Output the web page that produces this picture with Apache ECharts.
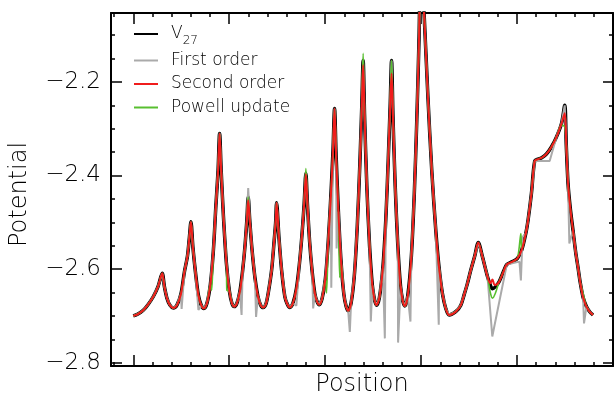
<!DOCTYPE html>
<html>
<head>
<meta charset="utf-8">
<script src="https://cdn.jsdelivr.net/npm/echarts@6/dist/echarts.min.js"></script>
<style>
  html, body { margin: 0; padding: 0; background: #fff; }
  #chart { width: 615px; height: 394px; }
</style>
</head>
<body>
<div id="chart"></div>
<script>
// positions along the path (major tick = 1 unit)
const positions = [
  0, 0.049, 0.104, 0.153, 0.208, 0.257, 0.302, 0.325, 0.351, 0.382,
  0.417, 0.455, 0.497, 0.533, 0.565, 0.585, 0.601, 0.622, 0.648, 0.679,
  0.710, 0.736, 0.768, 0.804, 0.835, 0.861, 0.884, 0.900, 0.916, 0.940,
  0.971, 1.002, 1.028, 1.052, 1.080, 1.111, 1.140, 1.164, 1.184, 1.198,
  1.214, 1.236, 1.268, 1.299, 1.328, 1.354, 1.382, 1.406, 1.442, 1.469,
  1.484, 1.494, 1.518, 1.546, 1.580, 1.606, 1.632, 1.664, 1.700, 1.731,
  1.757, 1.781, 1.799, 1.815, 1.838, 1.865, 1.893, 1.917, 1.938, 1.968,
  2.002, 2.033, 2.059, 2.082, 2.098, 2.114, 2.138, 2.166, 2.195, 2.219,
  2.240, 2.270, 2.304, 2.335, 2.361, 2.382, 2.396, 2.411, 2.434, 2.463,
  2.492, 2.515, 2.535, 2.565, 2.601, 2.632, 2.658, 2.678, 2.692, 2.707,
  2.730, 2.757, 2.786, 2.809, 2.830, 2.861, 2.898, 2.929, 2.955, 2.979,
  2.997, 3.031, 3.070, 3.111, 3.153, 3.188, 3.223, 3.257, 3.292, 3.361,
  3.414, 3.448, 3.481, 3.518, 3.559, 3.596, 3.640, 3.692, 3.721, 3.744,
  3.773, 3.813, 3.865, 3.893, 3.952, 4.004, 4.049, 4.091, 4.115, 4.150,
  4.184, 4.219, 4.257, 4.306, 4.358, 4.410, 4.463, 4.497, 4.513, 4.531,
  4.554, 4.583, 4.611, 4.635, 4.658, 4.688, 4.723, 4.757, 4.792
];

// V27 reference potential
const v27 = [
  -2.700, -2.696, -2.688, -2.676, -2.659, -2.638, -2.609, -2.638, -2.662, -2.677,
  -2.683, -2.677, -2.653, -2.606, -2.572, -2.532, -2.499, -2.554, -2.606, -2.656,
  -2.678, -2.684, -2.673, -2.632, -2.560, -2.465, -2.389, -2.310, -2.388, -2.488,
  -2.588, -2.647, -2.673, -2.680, -2.673, -2.648, -2.603, -2.552, -2.495, -2.446,
  -2.495, -2.554, -2.618, -2.658, -2.677, -2.682, -2.675, -2.652, -2.602, -2.538,
  -2.500, -2.458, -2.531, -2.602, -2.659, -2.675, -2.682, -2.673, -2.642, -2.590,
  -2.530, -2.461, -2.395, -2.460, -2.541, -2.606, -2.653, -2.670, -2.676, -2.663,
  -2.621, -2.538, -2.445, -2.345, -2.257, -2.356, -2.477, -2.585, -2.654, -2.680,
  -2.689, -2.673, -2.614, -2.507, -2.378, -2.250, -2.154, -2.274, -2.421, -2.551,
  -2.635, -2.666, -2.677, -2.661, -2.598, -2.494, -2.363, -2.248, -2.154, -2.275,
  -2.422, -2.548, -2.637, -2.668, -2.679, -2.657, -2.574, -2.439, -2.282, -2.102,
  -1.929, -2.053, -2.228, -2.389, -2.517, -2.598, -2.653, -2.684, -2.698, -2.691,
  -2.677, -2.655, -2.632, -2.602, -2.572, -2.543, -2.574, -2.616, -2.634, -2.642,
  -2.638, -2.627, -2.602, -2.590, -2.584, -2.577, -2.559, -2.524, -2.495, -2.438,
  -2.369, -2.365, -2.362, -2.354, -2.339, -2.318, -2.289, -2.250, -2.335, -2.416,
  -2.468, -2.517, -2.564, -2.596, -2.628, -2.660, -2.680, -2.691, -2.698
];

// points where the approximations differ from V27: [position, potential]
const firstOrderChanges = [
  [0.504, -2.685], [0.679, -2.687], [1.129, -2.698], [1.198, -2.427], [1.280, -2.702],
  [1.700, -2.678], [1.875, -2.684], [2.064, -2.640], [2.119, -2.556], [2.257, -2.734],
  [2.476, -2.712], [2.622, -2.748], [2.760, -2.757], [2.889, -2.712], [3.184, -2.719],
  [3.742, -2.744], [4.025, -2.584], [4.040, -2.624], [4.057, -2.531], [4.340, -2.369],
  [4.545, -2.545], [4.698, -2.716]
];
const firstOrderDropped = [[3.70, 3.89], [3.90, 4.085], [4.19, 4.40], [4.55, 4.56]];

const secondOrderChanges = [
  [1.198, -2.453], [1.799, -2.397], [2.396, -2.164], [2.692, -2.182], [3.721, -2.630],
  [3.744, -2.622], [3.760, -2.632], [3.773, -2.634], [4.497, -2.267]
];

const powellChanges = [
  [0.817, -2.645], [0.975, -2.645], [1.799, -2.385], [2.014, -2.651], [2.152, -2.618],
  [2.396, -2.139], [3.721, -2.650], [3.744, -2.662], [3.773, -2.652], [4.040, -2.524],
  [4.463, -2.292], [4.497, -2.296], [4.688, -2.652]
];

const xMajorTicks = [0, 1, 2, 3, 4, 5];
const xMinorTicks = [-0.2, 0.2, 0.4, 0.6, 0.8, 1.2, 1.4, 1.6, 1.8, 2.2, 2.4, 2.6, 2.8,
  3.2, 3.4, 3.6, 3.8, 4.2, 4.4, 4.6, 4.8];
const yMajorTicks = [-2.8, -2.6, -2.4, -2.2];
const yMinorTicks = [-2.75, -2.7, -2.65, -2.55, -2.5, -2.45, -2.35, -2.3, -2.25, -2.15, -2.1];

function buildSeries(changes, dropped) {
  const pts = positions.map((x, i) => [x, v27[i]])
    .filter(p => !(dropped || []).some(r => p[0] > r[0] && p[0] < r[1]));
  changes.forEach(c => {
    const hit = pts.find(p => p[0] === c[0]);
    if (hit) hit[1] = c[1]; else pts.push([c[0], c[1]]);
  });
  pts.sort((a, b) => a[0] - b[0]);
  return pts;
}

const FONT = "DejaVu Sans";
const X_MIN = -0.232, X_MAX = 5.0;
const Y_MIN = -2.807, Y_MAX = -2.0527;

function xAxisDef(pos, ticks, len, withLine, extra) {
  return Object.assign({
    type: "value", position: pos, min: X_MIN, max: X_MAX,
    axisLine: { show: withLine, onZero: false, lineStyle: { color: "#000", width: 2 } },
    axisTick: { show: true, inside: true, length: len, customValues: ticks, lineStyle: { color: "#000", width: 1.5 } },
    axisLabel: { show: false },
    splitLine: { show: false }
  }, extra || {});
}
function yAxisDef(pos, ticks, len, withLine, extra) {
  return Object.assign({
    type: "value", position: pos, min: Y_MIN, max: Y_MAX,
    axisLine: { show: withLine, onZero: false, lineStyle: { color: "#000", width: 2 } },
    axisTick: { show: true, inside: true, length: len, customValues: ticks, lineStyle: { color: "#000", width: 1.5 } },
    axisLabel: { show: false },
    splitLine: { show: false }
  }, extra || {});
}

const chart = echarts.init(document.getElementById("chart"));
const lineBase = { type: "line", symbol: "none", smooth: 0.3, xAxisIndex: 0, yAxisIndex: 0 };

const option = {
  animation: false,
  backgroundColor: "#fff",
  grid: { left: 111, right: 2, top: 13, bottom: 28, containLabel: false, outerBoundsMode: "none" },
  legend: {
    orient: "vertical", left: 133, top: 24, padding: 0,
    itemWidth: 24, itemHeight: 14, itemGap: 3.5,
    data: ["V27", "First order", "Second order", "Powell update"],
    itemStyle: { color: "transparent", borderColor: "transparent", borderWidth: 0, opacity: 0 },
    formatter: function (name) {
      return name === "V27" ? "{v|V}{sub|27}" : name;
    },
    textStyle: {
      fontFamily: FONT, fontSize: 17, fontWeight: 300, color: "#000", lineHeight: 20, padding: [0, 0, 0, 8],
      rich: {
        v: { fontFamily: FONT, fontSize: 17, fontWeight: 300, lineHeight: 20, color: "#000" },
        sub: { fontFamily: FONT, fontSize: 12, fontWeight: 300, lineHeight: 12, verticalAlign: "bottom", color: "#000", padding: [0, 0, -3, 0] }
      }
    }
  },
  xAxis: [
    xAxisDef("bottom", xMajorTicks, 11, true, {
      name: "Position", nameLocation: "middle", nameGap: 7,
      nameTextStyle: { fontFamily: FONT, fontSize: 24, fontWeight: 300, color: "#000" }
    }),
    xAxisDef("bottom", xMinorTicks, 4, false),
    xAxisDef("top", xMajorTicks, 11, true),
    xAxisDef("top", xMinorTicks, 4, false)
  ],
  yAxis: [
    yAxisDef("left", yMajorTicks, 11, true, {
      name: "Potential", nameLocation: "middle", nameGap: 79,
      nameTextStyle: { fontFamily: FONT, fontSize: 24, fontWeight: 300, color: "#000", padding: [0, 10, 0, 0] },
      axisLabel: {
        show: true, customValues: yMajorTicks, margin: 10,
        fontFamily: FONT, fontSize: 23, fontWeight: 300, color: "#000",
        formatter: v => v.toFixed(1).replace("-", "\u2212")
      }
    }),
    yAxisDef("left", yMinorTicks, 4, false),
    yAxisDef("right", yMajorTicks, 10, true),
    yAxisDef("right", yMinorTicks, 4, false)
  ],
  series: [
    Object.assign({}, lineBase, {
      name: "V27", z: 2,
      data: positions.map((x, i) => [x, v27[i]]),
      itemStyle: { color: "#000" },
      lineStyle: { color: "#000", width: 3.5 }
    }),
    Object.assign({}, lineBase, {
      name: "First order", z: 3, smooth: false,
      data: buildSeries(firstOrderChanges, firstOrderDropped),
      itemStyle: { color: "#aaaaaa" },
      lineStyle: { color: "#aaaaaa", width: 2 }
    }),
    Object.assign({}, lineBase, {
      name: "Second order", z: 5,
      data: buildSeries(secondOrderChanges),
      itemStyle: { color: "#f01c1c" },
      lineStyle: { color: "#f01c1c", width: 2 }
    }),
    Object.assign({}, lineBase, {
      name: "Powell update", z: 4,
      data: buildSeries(powellChanges),
      itemStyle: { color: "#58bf30" },
      lineStyle: { color: "#58bf30", width: 1.6 }
    })
  ]
};
chart.setOption(option);
window.addEventListener("resize", function () {
  chart.resize();
});
</script>
</body>
</html>
